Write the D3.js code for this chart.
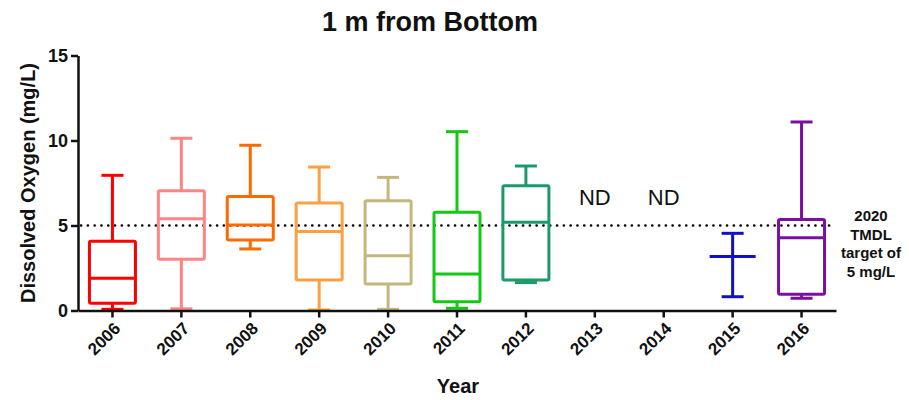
<!DOCTYPE html>
<html><head><meta charset="utf-8">
<script src="https://cdn.jsdelivr.net/npm/d3@7"></script>
<style>body{margin:0;background:#fff}svg{display:block;font-family:Arial,"Liberation Sans",sans-serif}</style>
</head><body><svg id="c" width="909" height="400"></svg>
<script>
const years = ["2006","2007","2008","2009","2010","2011","2012","2013","2014","2015","2016"];
const mins    = [0.07, 0.1, 3.62, 0.03, 0.07, 0.13, 1.64, null, null, 0.81, 0.72];
const q1s     = [0.42, 3.01, 4.15, 1.79, 1.56, 0.52, 1.79, null, null, null, 0.95];
const medians = [1.89, 5.4, 5.03, 4.64, 3.22, 2.15, 5.19, null, null, 3.17, 4.28];
const q3s     = [4.07, 7.05, 6.7, 6.33, 6.46, 5.78, 7.34, null, null, null, 5.36];
const maxs    = [7.95, 10.13, 9.72, 8.44, 7.83, 10.52, 8.5, null, null, 4.54, 11.09];
const colors  = ["#ff0000","#ff8585","#ff6a00","#ffa040","#c4b67c","#14c814","#1a9a68","#000","#000","#1010c8","#7a10a0"];
const yTicks  = [0, 5, 10, 15];
const target  = 5;
const targetLabel = ["2020","TMDL","target of","5 mg/L"];

const svg = d3.select("#c");
const x = d3.scaleBand().domain(years).range([78, 836]);
const y = d3.scaleLinear().domain([0, 15]).range([310.5, 55.5]);
const bw = 46, cw = 22;

// title
svg.append("text").attr("x", 430).attr("y", 31).attr("text-anchor","middle")
  .style("font-size","27px").style("font-weight","bold").attr("fill","#111").text("1 m from Bottom");

// target line
svg.append("line").attr("x1", x.range()[0]+3).attr("x2", x.range()[1]-3)
  .attr("y1", y(target)).attr("y2", y(target))
  .attr("stroke","#000").attr("stroke-width",2.6).attr("stroke-linecap","round")
  .attr("stroke-dasharray","0.1,6.7");

// boxes
const g = svg.append("g").attr("fill","none").attr("stroke-width",3);
years.forEach((yr,i)=>{
  if (mins[i]==null) return;
  const cx = x(yr) + x.bandwidth()/2, c = colors[i];
  const gg = g.append("g").attr("stroke", c);
  if (q1s[i]!=null) {
    gg.append("line").attr("x1",cx).attr("x2",cx).attr("y1",y(mins[i])).attr("y2",y(q1s[i]));
    gg.append("line").attr("x1",cx).attr("x2",cx).attr("y1",y(q3s[i])).attr("y2",y(maxs[i]));
    gg.append("rect").attr("x",cx-bw/2).attr("width",bw).attr("y",y(q3s[i])).attr("height",y(q1s[i])-y(q3s[i]))
      .attr("rx",1.5);
  } else {
    gg.append("line").attr("x1",cx).attr("x2",cx).attr("y1",y(mins[i])).attr("y2",y(maxs[i]));
  }
  gg.append("line").attr("x1",cx-cw/2).attr("x2",cx+cw/2).attr("y1",y(mins[i])).attr("y2",y(mins[i]));
  gg.append("line").attr("x1",cx-cw/2).attr("x2",cx+cw/2).attr("y1",y(maxs[i])).attr("y2",y(maxs[i]));
  gg.append("line").attr("x1",cx-bw/2).attr("x2",cx+bw/2).attr("y1",y(medians[i])).attr("y2",y(medians[i]));
});

// ND labels
years.forEach((yr,i)=>{
  if (mins[i]!=null) return;
  svg.append("text").attr("x", x(yr)+x.bandwidth()/2).attr("y", 205).attr("text-anchor","middle")
    .style("font-size","22px").attr("fill","#111").text("ND");
});

// axes
const yAxis = svg.append("g").attr("transform","translate(78,0)")
  .call(d3.axisLeft(y).tickValues(yTicks).tickSize(7).tickPadding(3).tickSizeOuter(0));
yAxis.select(".domain").attr("stroke","#111").attr("stroke-width",2.5);
yAxis.selectAll(".tick line").attr("stroke","#111").attr("stroke-width",2.5);
yAxis.selectAll("text").style("font-size","18px").style("font-weight","bold").attr("fill","#111")
  .style("font-family","Arial, 'Liberation Sans', sans-serif");

const xAxis = svg.append("g").attr("transform","translate(0,310.5)")
  .call(d3.axisBottom(x).tickSize(7).tickSizeOuter(0));
xAxis.select(".domain").attr("stroke","#111").attr("stroke-width",2.5);
xAxis.selectAll(".tick line").attr("stroke","#111").attr("stroke-width",2.5);
xAxis.selectAll("text").style("font-size","17px").style("font-weight","bold").attr("fill","#111")
  .style("font-family","Arial, 'Liberation Sans', sans-serif")
  .attr("text-anchor","end").attr("dy",null).attr("y",0)
  .attr("transform","translate(9,19) rotate(-45)");

// axis titles
svg.append("text").attr("transform","translate(35,183) rotate(-90)").attr("text-anchor","middle")
  .style("font-size","20px").style("font-weight","bold").attr("fill","#111").text("Dissolved Oxygen (mg/L)");
svg.append("text").attr("x",458).attr("y",393).attr("text-anchor","middle")
  .style("font-size","20px").style("font-weight","bold").attr("fill","#111").text("Year");

// target label
svg.append("g").selectAll("text").data(targetLabel).join("text")
  .attr("x",871).attr("y",(d,i)=>221+i*18.5).attr("text-anchor","middle")
  .style("font-size","15px").style("font-weight","bold").attr("fill","#111").text(d=>d);
</script></body></html>
